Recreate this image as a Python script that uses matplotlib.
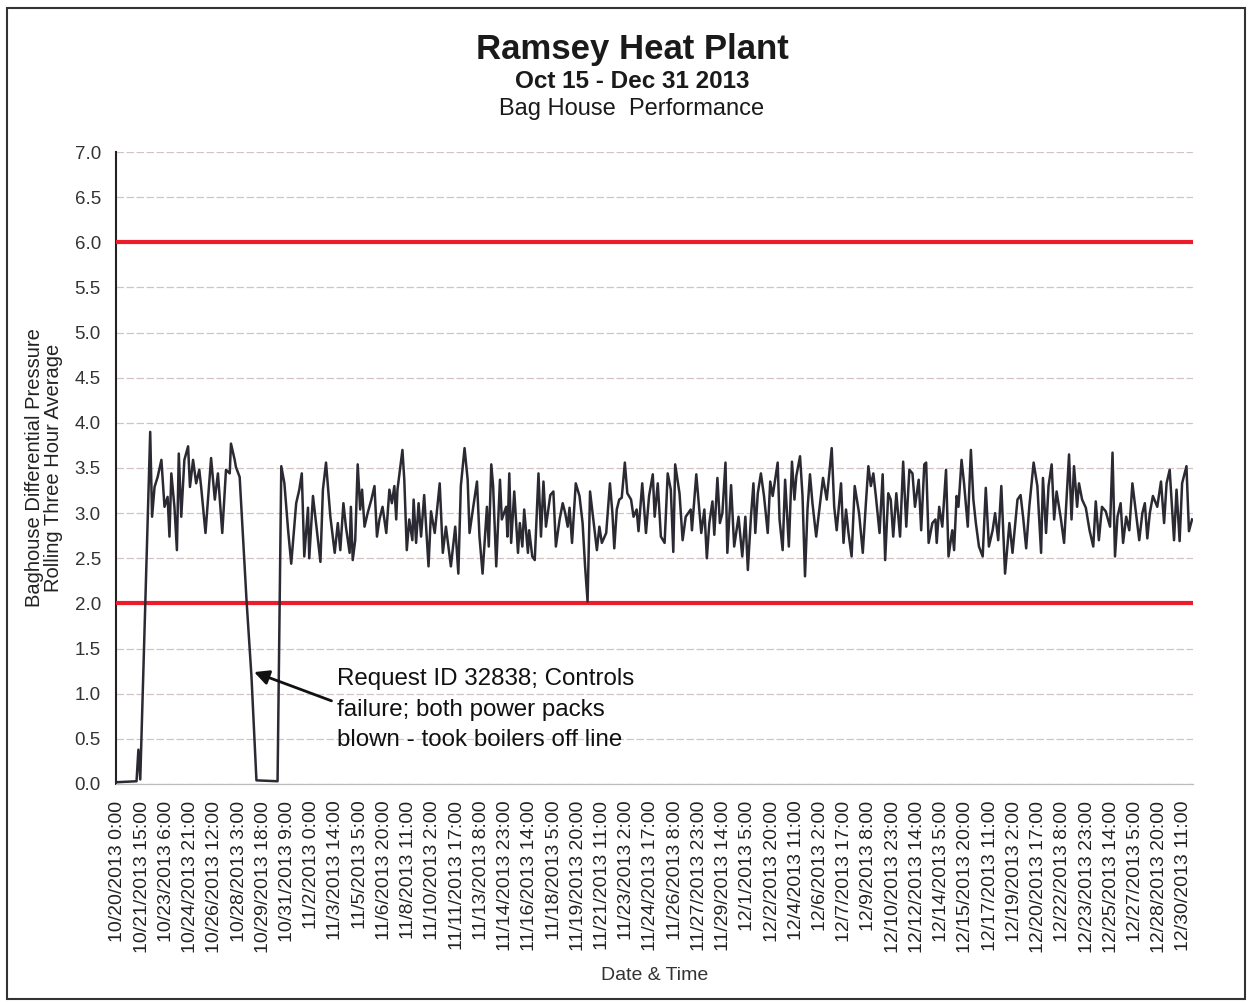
# -*- coding: utf-8 -*-

import matplotlib
matplotlib.use('Agg')
import matplotlib.pyplot as plt
from matplotlib.patches import Rectangle

plt.rcParams['font.family'] = ['Liberation Sans', 'DejaVu Sans']

# hours counted from 10/20/2013 0:00
hours = [0, 30, 33, 36, 52, 55, 59, 64, 70, 75, 80, 83, 86, 91, 95, 98, 102, 107, 113, 116,
         121, 126, 131, 134, 141, 150, 156, 161, 168, 174, 180, 182, 188, 190, 196, 201, 207,
         215, 223, 257, 263,
         268, 274, 279, 287, 292, 296, 300, 306, 308, 314, 319, 326, 330, 335, 342, 349, 354,
         358, 363, 367, 373, 375, 378, 382, 386, 390, 393, 397, 402, 408, 413, 417, 421, 426,
         432, 437, 441, 445, 448, 450, 454, 458, 461, 465, 469, 474, 476, 480, 484, 488, 493,
         500, 504, 510, 518, 523, 528, 536, 543, 548, 552, 558, 563, 566, 572, 578, 582, 587,
         594, 597, 601, 604, 609, 615, 618, 625, 627, 630, 633, 638, 644, 647, 651, 654, 660,
         662, 667, 671, 677, 681, 685, 689, 696, 701, 705, 711, 716, 720, 724, 727, 731, 737,
         743, 748, 752, 756, 760, 764, 771, 775, 779, 786, 792, 796, 799, 803, 807, 811, 816,
         820, 826, 830, 835, 838, 844, 850, 855, 861, 864, 869, 874, 880, 885, 890, 894, 897,
         904, 909, 914, 922,
         924, 931, 939, 944, 948, 952, 957, 960, 965, 969, 973, 978, 981, 987, 992, 999, 1005,
         1010, 1014, 1019, 1023, 1026, 1030, 1035, 1040, 1046, 1050, 1054, 1062, 1065, 1070,
         1074, 1080, 1085, 1089, 1092, 1098, 1102, 1106, 1110, 1114, 1118, 1124, 1129, 1135,
         1141, 1149, 1153, 1157, 1164, 1168, 1172, 1176, 1181, 1186, 1193, 1199, 1204, 1208,
         1212, 1216, 1220, 1226, 1231, 1235, 1240, 1244, 1248, 1253, 1259, 1264, 1269,
         1274, 1279, 1283, 1289, 1293, 1298, 1301, 1305, 1311, 1316, 1318, 1322, 1327, 1333,
         1337, 1343, 1346, 1350, 1353, 1358, 1362, 1368, 1373, 1377, 1381, 1386, 1392, 1397,
         1402, 1408, 1412, 1417, 1422, 1428, 1435, 1440, 1448, 1453, 1457, 1462, 1467, 1474,
         1480, 1486, 1489, 1494, 1498, 1503, 1507, 1511, 1518, 1523, 1531, 1535, 1539, 1544,
         1547, 1552, 1558, 1564, 1570, 1574, 1579, 1584, 1590, 1597, 1601, 1605, 1609, 1614,
         1618, 1623, 1628, 1633, 1638, 1644, 1649, 1653, 1657, 1661, 1666, 1673, 1679, 1684,
         1688, 1693, 1700, 1704, 1709, 1713, 1720, 1724, 1729]
pressure = [0.02, 0.03, 0.38, 0.05, 3.90, 2.96, 3.29, 3.40, 3.59, 3.07, 3.18, 2.74, 3.44, 3.07,
            2.59, 3.66, 2.96, 3.59, 3.74, 3.29, 3.59, 3.33, 3.48, 3.29, 2.78, 3.61, 3.15, 3.44,
            2.78, 3.48, 3.44, 3.77, 3.59, 3.51, 3.40, 2.78, 2.04, 1.19, 0.04, 0.03, 3.52,
            3.33, 2.81, 2.44, 3.11, 3.26, 3.44, 2.52, 3.06, 2.50, 3.19, 2.89, 2.46, 3.26, 3.56,
            2.96, 2.56, 2.89, 2.59, 3.11, 2.85, 2.56, 3.07, 2.48, 2.70, 3.54, 3.04, 3.26, 2.85,
            3.00, 3.15, 3.30, 2.74, 2.93, 3.07, 2.78, 3.26, 3.11, 3.30, 2.93, 3.26, 3.48, 3.70,
            3.37, 2.59, 2.93, 2.70, 3.15, 2.67, 3.11, 2.74, 3.20, 2.41, 3.02, 2.78, 3.33, 2.56,
            2.85, 2.41, 2.85, 2.33, 3.30, 3.72, 3.37, 2.78, 3.07, 3.35, 2.74, 2.33,
            3.07, 2.63, 3.54, 3.30, 2.41, 3.37, 2.93, 3.07, 2.74, 3.44, 2.67, 3.24, 2.56, 2.89,
            2.63, 3.04, 2.56, 2.81, 2.52, 2.48, 3.44, 2.74, 3.35, 2.85, 3.20, 3.24, 2.63, 2.93,
            3.11, 3.00, 2.85, 3.06, 2.67, 3.33, 3.19, 2.89, 2.41, 2.02, 3.24, 3.00, 2.59, 2.85,
            2.67, 2.78, 3.33, 3.00, 2.61, 3.04, 3.15, 3.17, 3.56, 3.22, 3.15, 2.96, 3.04, 2.80,
            3.33, 2.78, 3.19, 3.43, 2.96, 3.33, 2.74, 2.67, 3.44, 3.26, 2.57, 3.54, 3.22, 2.70,
            2.96, 3.04,
            2.81, 3.43, 2.78, 3.04, 2.50, 2.89, 3.13, 2.76, 3.39, 2.89, 3.00, 3.56, 2.56, 3.31,
            2.63, 2.96, 2.52, 2.96, 2.37, 2.96, 3.33, 2.78, 3.22, 3.44, 3.19, 2.78, 3.35, 3.19,
            3.56, 2.93, 2.59, 3.37, 2.63, 3.57, 3.15, 3.41, 3.63, 3.19, 2.30, 3.04, 3.43, 3.11,
            2.74, 3.04, 3.39, 3.15, 3.72, 3.07, 2.81, 3.33, 2.67, 3.04, 2.78, 2.52, 3.30, 3.00,
            2.56, 3.11, 3.52, 3.30, 3.44, 3.19, 2.78, 3.43, 2.48, 3.22, 3.15, 2.74, 3.22, 2.74,
            3.57, 2.85,
            3.48, 3.44, 3.07, 3.37, 2.81, 3.54, 3.56, 2.67, 2.89, 2.93, 2.67, 3.07, 2.85, 3.48,
            2.52, 2.81, 2.59, 3.19, 3.07, 3.59, 3.33, 2.85, 3.70, 3.15, 2.89, 2.63, 2.52, 3.28,
            2.63, 2.81, 3.00, 2.70, 3.30, 2.33, 2.89, 2.56, 3.15, 3.20, 2.96, 2.61, 3.07, 3.56,
            3.30, 2.56, 3.39, 2.78, 3.30, 3.54, 2.93, 3.24, 2.93, 2.67, 3.65, 2.93, 3.52, 3.07,
            3.33, 3.15, 3.06, 2.81, 2.63, 3.13, 2.70, 3.07, 3.02, 2.85, 3.67, 2.52, 2.96, 3.11,
            2.67, 2.96, 2.81, 3.33, 3.04, 2.70, 3.00, 3.11, 2.72, 3.00, 3.19, 3.07, 3.35, 2.89,
            3.33, 3.48, 2.70, 3.26, 2.69, 3.33, 3.52, 2.80, 2.93]

tick_step = 39  # hours between category labels
tick_labels = ['10/20/2013 0:00', '10/21/2013 15:00', '10/23/2013 6:00', '10/24/2013 21:00',
               '10/26/2013 12:00', '10/28/2013 3:00', '10/29/2013 18:00', '10/31/2013 9:00',
               '11/2/2013 0:00', '11/3/2013 14:00', '11/5/2013 5:00', '11/6/2013 20:00',
               '11/8/2013 11:00', '11/10/2013 2:00', '11/11/2013 17:00', '11/13/2013 8:00',
               '11/14/2013 23:00', '11/16/2013 14:00', '11/18/2013 5:00', '11/19/2013 20:00',
               '11/21/2013 11:00', '11/23/2013 2:00', '11/24/2013 17:00', '11/26/2013 8:00',
               '11/27/2013 23:00', '11/29/2013 14:00', '12/1/2013 5:00', '12/2/2013 20:00',
               '12/4/2013 11:00', '12/6/2013 2:00', '12/7/2013 17:00', '12/9/2013 8:00',
               '12/10/2013 23:00', '12/12/2013 14:00', '12/14/2013 5:00', '12/15/2013 20:00',
               '12/17/2013 11:00', '12/19/2013 2:00', '12/20/2013 17:00', '12/22/2013 8:00',
               '12/23/2013 23:00', '12/25/2013 14:00', '12/27/2013 5:00', '12/28/2013 20:00',
               '12/30/2013 11:00']
upper_limit = 6.0
lower_limit = 2.0

fig = plt.figure(figsize=(12.49, 10.02), dpi=100)
ax = fig.add_axes([0.0929, 0.2176, 0.862, 0.6307])

# limits (red) and series
ax.axhline(upper_limit, color='#ec1c2a', lw=3, zorder=3)
ax.axhline(lower_limit, color='#ec1c2a', lw=3, zorder=3)
ax.plot(hours, pressure, color='#2b2a33', lw=1.8, zorder=4)

ax.set_xlim(-3, 1730)
ax.set_ylim(0, 7)
ax.set_yticks([i * 0.5 for i in range(15)])
ax.set_yticklabels(['%.1f' % (i * 0.5) for i in range(15)])
ax.set_xticks([i * tick_step for i in range(len(tick_labels))])
ax.set_xticklabels(tick_labels, rotation=90, ha='center', va='top')
ax.tick_params(axis='y', length=0, pad=11, labelsize=13.5, labelcolor='#333333')
ax.tick_params(axis='x', length=0, pad=12, labelsize=14, labelcolor='#222222')
ax.grid(axis='y', color='#d2c4c4', lw=0.9, ls=(0, (6, 2)))
ax.set_axisbelow(True)

for side in ['top', 'right']:
    ax.spines[side].set_visible(False)
ax.spines['left'].set_color('#222222')
ax.spines['left'].set_linewidth(1.5)
ax.spines['bottom'].set_color('#bbbbbb')
ax.spines['bottom'].set_linewidth(0.9)

ax.set_ylabel('Baghouse Differential Pressure\nRolling Three Hour Average', fontsize=14.5,
              color='#222222', labelpad=8, linespacing=1.05)
ax.set_xlabel('Date & Time', fontsize=14, color='#333333', labelpad=10)

fig.text(0.506, 0.951, 'Ramsey Heat Plant', ha='center', va='center', fontsize=25,
         fontweight='bold', color='#1a1a1a')
fig.text(0.506, 0.919, 'Oct 15 - Dec 31 2013', ha='center', va='center', fontsize=17.5,
         fontweight='bold', color='#1a1a1a')
fig.text(0.506, 0.891, 'Bag House  Performance', ha='center', va='center', fontsize=17,
         color='#1a1a1a')

# outage note
ax.annotate('', xy=(215, 1.25), xytext=(348, 0.91),
            arrowprops=dict(arrowstyle='-|>', color='#111111', lw=2, mutation_scale=22),
            zorder=5)
ax.text(353, 1.28, 'Request ID 32838; Controls\nfailure; both power packs\nblown - took boilers off line',
        ha='left', va='top', fontsize=17.4, linespacing=1.5, color='#111111')

fig.patches.append(Rectangle((0.006, 0.003), 0.991, 0.989, transform=fig.transFigure,
                             fill=False, edgecolor='#333333', lw=1.5))

plt.savefig('out.png', dpi=100)
